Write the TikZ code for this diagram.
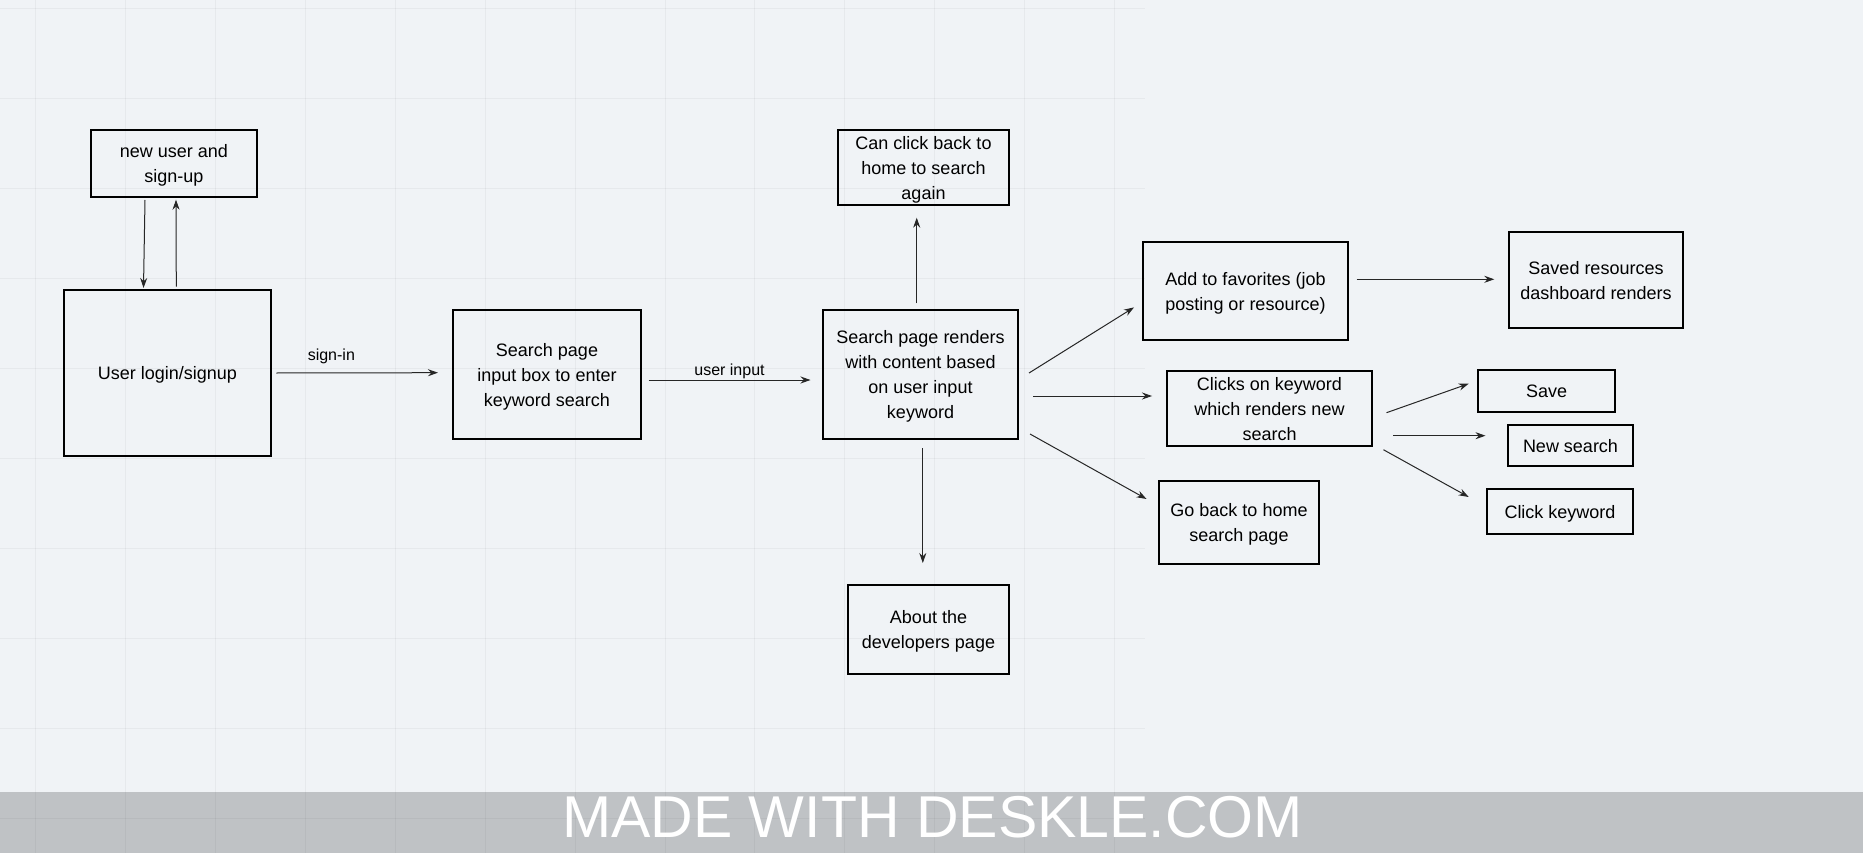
\documentclass[tikz,border=0pt]{standalone}
\usepackage{fontspec}
\setmainfont{Liberation Sans}
\usetikzlibrary{arrows.meta}
\definecolor{canvas}{HTML}{F0F3F6}
\definecolor{banner}{HTML}{BFC2C5}
\definecolor{wire}{HTML}{262626}

\tikzset{
  box/.style={draw=black, line width=2pt, inner sep=0pt, align=center,
    text depth=0pt, font=\fontsize{18}{25}\selectfont},
  flow/.style={draw=wire, line width=1pt, -{Stealth[length=10pt,width=7pt]}},
  lbl/.style={font=\fontsize{16}{16}\selectfont, inner sep=0pt}
}

\begin{document}
\begin{tikzpicture}[x=1pt,y=-1pt]
	\useasboundingbox (0,0) rectangle (1863,853);
	% canvas, banner and grid
	\fill[canvas] (0,0) rectangle (1863,853);
	\fill[banner] (0,792) rectangle (1863,853);
	\foreach \gx in {0,...,12}{
		\draw[black, opacity=.04, line width=1pt] (35.7+89.9*\gx,0) -- (35.7+89.9*\gx,853);
	}
	\foreach \gy in {0,...,9}{
		\draw[black, opacity=.04, line width=1pt] (0,8.3+90*\gy) -- (1145,8.3+90*\gy);
	}
	\node[anchor=base, text=white, font=\fontsize{59}{59}\selectfont] (made) at (932.6,837.7) {MADE WITH DESKLE.COM};

	% boxes
	\node[box, minimum width=166pt, minimum height=67pt] (newuser) at (174,163.5) {new user and\\sign-up};
	\node[box, minimum width=207pt, minimum height=166pt] (login) at (167.5,373) {User login/signup};
	\node[box, minimum width=188pt, minimum height=129pt] (search) at (547,374.5) {Search page\\input box to enter\\keyword search};
	\node[box, minimum width=171pt, minimum height=75pt] (back) at (923.5,167.5) {Can click back to\\home to search\\again};
	\node[box, minimum width=195pt, minimum height=129pt] (results) at (920.5,374.5) {Search page renders\\with content based\\on user input\\keyword};
	\node[box, minimum width=161pt, minimum height=89pt] (about) at (928.5,629.5) {About the\\developers page};
	\node[box, minimum width=205pt, minimum height=98pt] (fav) at (1245.5,291) {Add to favorites (job\\posting or resource)};
	\node[box, minimum width=205pt, minimum height=75pt] (keyword) at (1269.5,408.5) {Clicks on keyword\\which renders new\\search};
	\node[box, minimum width=160pt, minimum height=83pt] (home) at (1239,522.5) {Go back to home\\search page};
	\node[box, minimum width=174pt, minimum height=96pt] (saved) at (1596,280) {Saved resources\\dashboard renders};
	\node[box, minimum width=137pt, minimum height=42pt] (save) at (1546.5,391) {Save};
	\node[box, minimum width=125pt, minimum height=41pt] (newsearch) at (1570.5,445.5) {New search};
	\node[box, minimum width=146pt, minimum height=45pt] (clickkw) at (1560,511.5) {Click keyword};

	% connectors
	\draw[flow] ([shift={(-29,2)}]newuser.south) -- ([shift={(-24,-1)}]login.north);
	\draw[flow] ([shift={(8.8,-2.3)}]login.north) -- ([shift={(2,1.7)}]newuser.south);
	\draw[flow] ([shift={(4.4,0)}]login.east) -- node[lbl, pos=.34, yshift=17pt] {sign-in} ([shift={(-14,-1.8)}]search.west);
	\draw[flow] ([shift={(6.5,5.5)}]search.east) -- node[lbl, pos=.5, yshift=9pt] {user input} ([shift={(-11.5,5.5)}]results.west);
	\draw[flow] ([shift={(-3.8,-5.6)}]results.north) -- ([shift={(-6.8,11.7)}]back.south);
	\draw[flow] ([shift={(2.3,8)}]results.south) -- ([shift={(-5.7,-21)}]about.north);
	\draw[flow] ([shift={(10,-1.5)}]results.east) -- ([shift={(-8,16.4)}]fav.west);
	\draw[flow] ([shift={(14,21.5)}]results.east) -- ([shift={(-14,-12.5)}]keyword.west);
	\draw[flow] ([shift={(11,59.5)}]results.east) -- ([shift={(-11.5,-23.5)}]home.west);
	\draw[flow] ([shift={(7.6,-11.7)}]fav.east) -- ([shift={(-13.7,-0.7)}]saved.west);
	\draw[flow] ([shift={(13.5,4.2)}]keyword.east) -- ([shift={(-8.3,-7.3)}]save.west);
	\draw[flow] ([shift={(20,27.2)}]keyword.east) -- ([shift={(-21.5,-9.8)}]newsearch.west);
	\draw[flow] ([shift={(10.4,41.2)}]keyword.east) -- ([shift={(-17.3,-14.5)}]clickkw.west);
\end{tikzpicture}
\end{document}
